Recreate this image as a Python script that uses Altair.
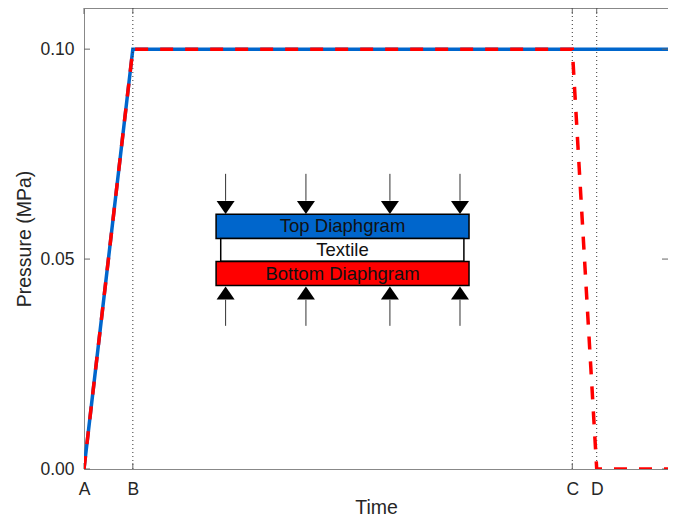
import altair as alt
import pandas as pd

# ---- data ----
tick_labels = ["A", "B", "C", "D"]
tick_pos = [0, 2, 20, 21]
y_ticks = [0.0, 0.05, 0.10]

blue_t = [0, 2, 24]
blue_p = [0.0, 0.10, 0.10]
red_t = [0, 2, 20, 21, 24]
red_p = [0.0, 0.10, 0.10, 0.0, 0.0]

# inset diagram (in data units)
rect_names = ["Top Diaphgram", "Textile", "Bottom Diaphgram"]
rect_x1 = [5.41, 5.60, 5.41]
rect_x2 = [15.77, 15.56, 15.77]
rect_y1 = [0.0549, 0.0495, 0.0437]
rect_y2 = [0.0607, 0.0549, 0.0494]
rect_fill = ["#0066CC", "#FFFFFF", "#FF0000"]
text_y = [0.0578, 0.0522, 0.0465]
text_x = 10.59

arrow_x = [5.80, 9.09, 12.53, 15.40]
top_stem = (0.0703, 0.0639)
top_head = 0.0623
bot_stem = (0.0403, 0.0341)
bot_head = 0.0419

W, H = 584, 461
XDOM = [0, 23.92]
YDOM = [0, 0.1098]
FONT = "Liberation Sans"

xs = alt.Scale(domain=XDOM, nice=False, zero=False)
ys = alt.Scale(domain=YDOM, nice=False, zero=False)

label_expr = ("datum.value == %d ? '%s' : datum.value == %d ? '%s' : datum.value == %d ? '%s' : '%s'"
              % (tick_pos[0], tick_labels[0], tick_pos[1], tick_labels[1], tick_pos[2], tick_labels[2], tick_labels[3]))

XA = alt.Axis(values=tick_pos, labelExpr=label_expr, title="Time", ticks=False, tickSize=0, domain=False, grid=False,
              labelPadding=11, labelFontSize=17.5, labelFont=FONT, labelColor="#262626", labelFlush=False,
              titleFontSize=19.5, titleFont=FONT, titleColor="#262626", titleFontWeight="normal",
              titleY=44, titleBaseline="alphabetic")
YA = alt.Axis(values=y_ticks, format=".2f", title="Pressure (MPa)", ticks=False, tickSize=0, domain=False, grid=False,
              labelPadding=10, labelFontSize=17.5, labelFont=FONT, labelColor="#262626", labelFlush=False,
              titleFontSize=19.5, titleFont=FONT, titleColor="#262626", titleFontWeight="normal",
              titleX=-60, titleBaseline="middle")


def X(f):
    return alt.X(f, scale=xs, axis=XA, title="Time")


def Y(f):
    return alt.Y(f, scale=ys, axis=YA, title="Pressure (MPa)")


lines_df = pd.DataFrame({"t": blue_t, "p": blue_p})
red_df = pd.DataFrame({"t": red_t, "p": red_p})

blue = alt.Chart(lines_df).mark_line(color="#0066CC", strokeWidth=3.5, strokeJoin="miter", clip=True).encode(
    x=X("t:Q"), y=Y("p:Q"))

red = alt.Chart(red_df).mark_line(color="#FF0000", strokeWidth=3.5, strokeDash=[13, 12], strokeCap="butt",
                                  strokeJoin="miter", clip=True).encode(x=X("t:Q"), y=Y("p:Q"))

vdf = pd.DataFrame({"t": tick_pos[1:]})
vlines = alt.Chart(vdf).mark_rule(color="#333333", strokeWidth=1, strokeDash=[1, 3]).encode(
    x=X("t:Q"), y=alt.value(0), y2=alt.value(H))

xt_df = pd.DataFrame({"t": tick_pos})
yt_df = pd.DataFrame({"p": y_ticks})
tick_color = "#666666"
xt_bot = alt.Chart(xt_df).mark_rule(color=tick_color, strokeWidth=1).encode(
    x=X("t:Q"), y=alt.value(H - 6), y2=alt.value(H))
xt_top = alt.Chart(xt_df).mark_rule(color=tick_color, strokeWidth=1).encode(
    x=X("t:Q"), y=alt.value(0), y2=alt.value(6))
yt_left = alt.Chart(yt_df).mark_rule(color=tick_color, strokeWidth=1).encode(
    y=Y("p:Q"), x=alt.value(0), x2=alt.value(6))
yt_right = alt.Chart(yt_df).mark_rule(color=tick_color, strokeWidth=1).encode(
    y=Y("p:Q"), x=alt.value(W - 6), x2=alt.value(W))

rect_df = pd.DataFrame({"name": rect_names, "x1": rect_x1, "x2": rect_x2,
                        "y1": rect_y1, "y2": rect_y2, "fill": rect_fill, "ty": text_y})
rects = alt.Chart(rect_df).mark_rect(stroke="black", strokeWidth=1.5).encode(
    x=X("x1:Q"), x2="x2:Q", y=Y("y1:Q"), y2="y2:Q",
    fill=alt.Fill("fill:N", scale=None))
texts = alt.Chart(rect_df).mark_text(font=FONT, fontSize=18.5, color="#111111", baseline="middle", align="center").encode(
    x=alt.datum(text_x), y=Y("ty:Q"), text="name:N")

arr_df = pd.DataFrame({"x": arrow_x})
stems_top = alt.Chart(arr_df).mark_rule(color="#333333", strokeWidth=1).encode(
    x=X("x:Q"), y=alt.datum(top_stem[0]), y2=alt.datum(top_stem[1]))
stems_bot = alt.Chart(arr_df).mark_rule(color="#333333", strokeWidth=1).encode(
    x=X("x:Q"), y=alt.datum(bot_stem[0]), y2=alt.datum(bot_stem[1]))
heads_top = alt.Chart(arr_df).mark_point(shape="M-1,-0.72L1,-0.72L0,0.72Z", filled=True, color="black",
                                         size=324, opacity=1).encode(
    x=X("x:Q"), y=alt.datum(top_head))
heads_bot = alt.Chart(arr_df).mark_point(shape="M-1,0.72L1,0.72L0,-0.72Z", filled=True, color="black",
                                         size=324, opacity=1).encode(
    x=X("x:Q"), y=alt.datum(bot_head))

chart = alt.layer(
    blue, vlines, xt_bot, xt_top, yt_left, yt_right,
    red,
    stems_top, stems_bot, heads_top, heads_bot, rects, texts,
).properties(
    width=W, height=H,
    autosize=alt.AutoSizeParams(type="none"),
    padding={"left": 76, "top": 0, "right": 0, "bottom": 49},
    background="white",
).configure_view(stroke="#888888", strokeWidth=1)

chart.save("out.html", embed_options={"renderer": "svg", "actions": False})
